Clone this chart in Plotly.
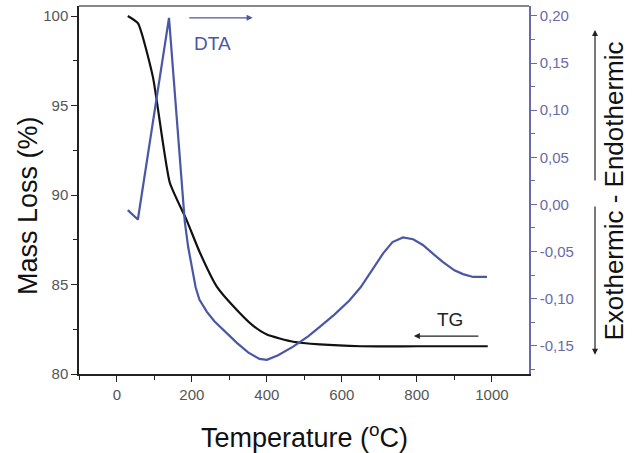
import plotly.graph_objects as go

# TG curve (mass loss, %)
tg_temp = [29, 56, 96, 141, 186, 221, 266, 310, 363, 400, 470, 541, 650, 800, 989]
tg_mass = [100.0, 99.6, 96.6, 90.7, 88.6, 86.8, 84.9, 83.8, 82.7, 82.2, 81.8, 81.65, 81.55, 81.55, 81.55]

# DTA curve
dta_temp = [29, 56, 139, 181, 190, 200, 210, 220, 240, 260, 290, 320, 350, 380, 400, 430, 470, 510,
            541, 580, 620, 650, 680, 710, 735, 763, 790, 816, 845, 869, 900, 923, 950, 987]
dta_val = [-0.006, -0.016, 0.198, -0.018, -0.045, -0.068, -0.088, -0.101, -0.114, -0.124, -0.136,
           -0.147, -0.157, -0.164, -0.165, -0.160, -0.151, -0.140, -0.130, -0.117, -0.102, -0.088,
           -0.070, -0.052, -0.040, -0.035, -0.037, -0.043, -0.053, -0.061, -0.070, -0.074, -0.077, -0.077]

x_ticks = [0, 200, 400, 600, 800, 1000]
left_ticks = [80, 85, 90, 95, 100]
right_ticks = [-0.15, -0.10, -0.05, 0.00, 0.05, 0.10, 0.15, 0.20]
right_labels = ["-0,15", "-0,10", "-0,05", "0,00", "0,05", "0,10", "0,15", "0,20"]

BLUE = "#4a56a6"
AXBLUE = "#6a6aa8"
GRAY = "#555555"
FONT = "Liberation Sans, Arial, sans-serif"

fig = go.Figure()
fig.add_trace(go.Scatter(x=tg_temp, y=tg_mass, mode="lines",
                         line=dict(color="#111111", width=2.2, shape="spline", smoothing=0.5),
                         showlegend=False))
fig.add_trace(go.Scatter(x=dta_temp, y=dta_val, mode="lines", yaxis="y2",
                         line=dict(color=BLUE, width=2.2), showlegend=False))

fig.update_layout(
    width=632, height=453,
    margin=dict(l=79, r=103, t=6, b=79),
    paper_bgcolor="white", plot_bgcolor="white",
    font=dict(family=FONT),
    xaxis=dict(range=[-101, 1099], tickvals=x_ticks, ticks="outside", ticklen=6,
               tickcolor="#222", showline=True, linecolor="#222", linewidth=1.5,
               showgrid=False, zeroline=False,
               tickfont=dict(size=15, color=GRAY),
               minor=dict(ticks="outside", ticklen=4, dtick=100, tick0=0, tickcolor="#222")),
    yaxis=dict(range=[80, 100.56], tickvals=left_ticks, ticks="outside", ticklen=6,
               tickcolor="#222", showline=True, linecolor="#222", linewidth=1.5,
               showgrid=False, zeroline=False,
               tickfont=dict(size=15, color=GRAY),
               minor=dict(ticks="outside", ticklen=4, dtick=2.5, tick0=80, tickcolor="#222")),
    yaxis2=dict(range=[-0.18, 0.2106], overlaying="y", side="right",
                tickvals=right_ticks, ticktext=right_labels, ticks="outside", ticklen=6,
                tickcolor=AXBLUE, showline=True, linecolor=AXBLUE, linewidth=1.5,
                showgrid=False, zeroline=False,
                tickfont=dict(size=15, color=AXBLUE),
                minor=dict(ticks="outside", ticklen=4, dtick=0.025, tick0=0, tickcolor=AXBLUE)),
    shapes=[dict(type="line", xref="paper", yref="paper", x0=0, x1=1, y0=1, y1=1,
                 line=dict(color="#888888", width=2))],
)

ann = []
# axis titles
ann.append(dict(text="Temperature (<sup>o</sup>C)", xref="paper", yref="paper",
                x=0.502, y=-0.168, xanchor="center", yanchor="middle", showarrow=False,
                font=dict(size=27, color="#111")))
ann.append(dict(text="Mass Loss (%)", xref="paper", yref="paper",
                x=-0.113, y=0.457, xanchor="center", yanchor="middle", showarrow=False,
                textangle=-90, font=dict(size=27, color="#111")))
ann.append(dict(text="Exothermic - Endothermic", xref="paper", yref="paper",
                x=1.19, y=0.497, xanchor="center", yanchor="middle", showarrow=False,
                textangle=-90, font=dict(size=26, color="#111")))
# side arrows
ann.append(dict(x=1.1467, y=0.935, ax=1.1467, ay=0.522, xref="x domain", yref="y domain",
                axref="x domain", ayref="y domain", showarrow=True, arrowhead=2, arrowsize=1,
                arrowwidth=1.2, arrowcolor="#222", text=""))
ann.append(dict(x=1.1467, y=0.052, ax=1.1467, ay=0.459, xref="x domain", yref="y domain",
                axref="x domain", ayref="y domain", showarrow=True, arrowhead=2, arrowsize=1,
                arrowwidth=1.2, arrowcolor="#222", text=""))
# DTA label + arrow
ann.append(dict(x=362, y=99.9, ax=189, ay=99.9, xref="x", yref="y", axref="x", ayref="y",
                showarrow=True, arrowhead=2, arrowsize=1, arrowwidth=1.2, arrowcolor=BLUE, text=""))
ann.append(dict(text="DTA", x=256, y=98.45, xref="x", yref="y", showarrow=False,
                font=dict(size=19, color=BLUE)))
# TG label + arrow
ann.append(dict(x=792, y=82.12, ax=968, ay=82.12, xref="x", yref="y", axref="x", ayref="y",
                showarrow=True, arrowhead=2, arrowsize=1, arrowwidth=1.2, arrowcolor="#222", text=""))
ann.append(dict(text="TG", x=888, y=83.05, xref="x", yref="y", showarrow=False,
                font=dict(size=19, color="#222")))
fig.update_layout(annotations=ann)

fig.write_html("out.html")
